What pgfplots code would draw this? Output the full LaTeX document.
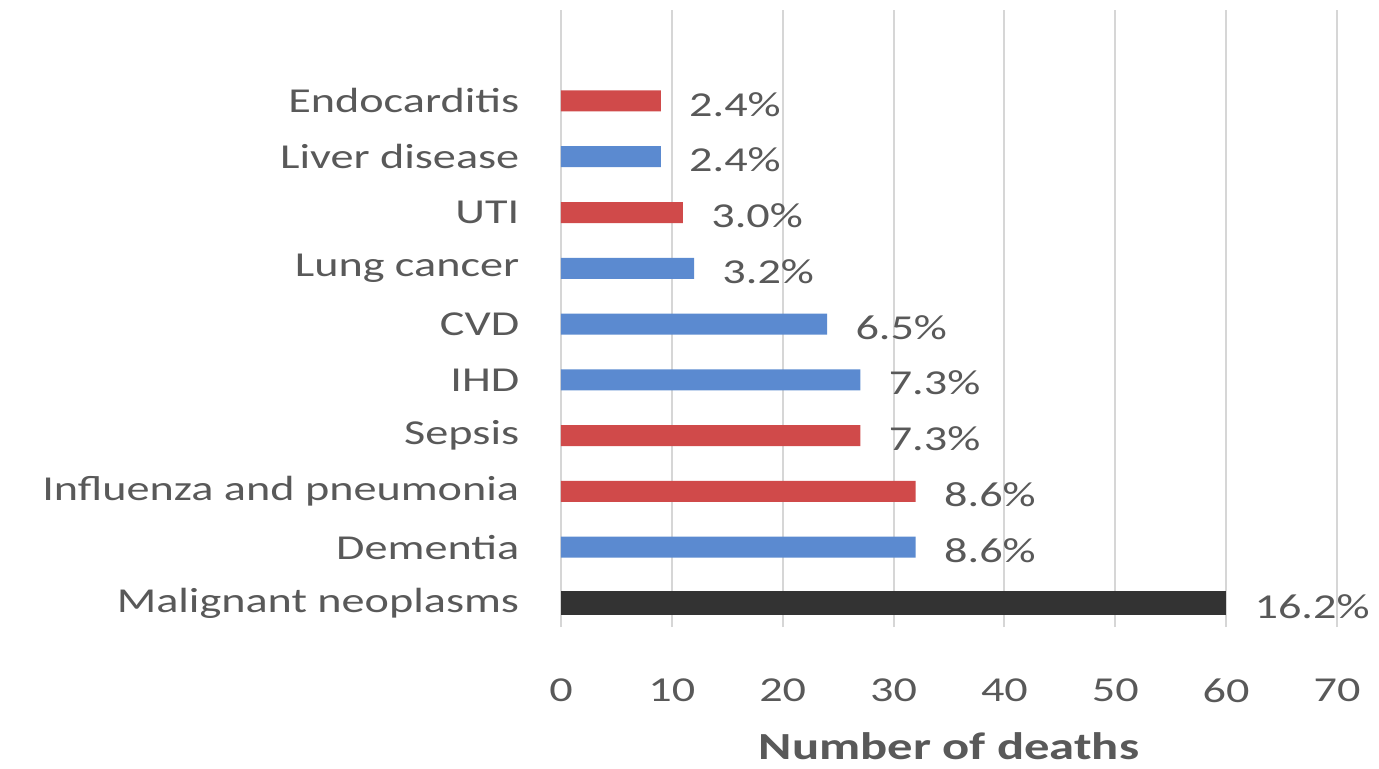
\documentclass[border=0pt]{standalone}
\usepackage{fontspec}
\setmainfont{Carlito}[FakeStretch=1.32]
\usepackage{pgfplots}
\pgfplotsset{compat=1.18}

\definecolor{barred}{HTML}{D04A4A}
\definecolor{barblue}{HTML}{5B8AD0}
\definecolor{bardark}{HTML}{333333}
\definecolor{txtgray}{HTML}{595959}
\definecolor{gridgray}{HTML}{D6D6D6}

\begin{document}
\begin{tikzpicture}
\begin{axis}[
    name=ax,
    scale only axis,
    width=232.8pt, height=185.1pt,
    xbar, bar shift=0pt, bar width=6.3pt,
    xmin=0, xmax=70, xtick={0,10,...,70},
    ymin=-0.43, ymax=10.63,
    ytick={0,...,9},
    yticklabels={Malignant neoplasms, Dementia, Influenza and pneumonia, Sepsis, IHD, CVD, Lung cancer, UTI, Liver disease, Endocarditis},
    axis line style={draw=none},
    major tick length=0pt,
    xmajorgrids, grid style={gridgray, line width=0.6pt},
    ymajorgrids=false,
    tick label style={font=\fontsize{10.5}{12}\selectfont, text=txtgray},
    xticklabel style={yshift=-12pt},
    yticklabel style={xshift=-9pt},
    /pgf/number format/assume math mode=true,
    point meta=explicit symbolic,
    nodes near coords,
    every node near coord/.append style={anchor=west, font=\fontsize{10.5}{12}\selectfont, text=txtgray, xshift=5pt, yshift=-1pt},
    clip=false,
]
\addplot[fill=barred, draw=none] coordinates {
    (32,2) [8.6\%]
    (27,3) [7.3\%]
    (11,7) [3.0\%]
    (9,9)  [2.4\%]
};
\addplot[fill=barblue, draw=none] coordinates {
    (32,1) [8.6\%]
    (27,4) [7.3\%]
    (24,5) [6.5\%]
    (12,6) [3.2\%]
    (9,8)  [2.4\%]
};
\addplot[fill=bardark, draw=none, bar width=7pt] coordinates {
    (60,0) [16.2\%]
};
\end{axis}
\node[anchor=base, font=\bfseries\fontsize{11.5}{13}\selectfont, text=txtgray] at ([yshift=-39.8pt]ax.south) {Number of deaths};
\pgfresetboundingbox
\path[use as bounding box] ([shift={(-168.3pt,-42.3pt)}]ax.south west) rectangle ([shift={(12.6pt,3pt)}]ax.north east);
\end{tikzpicture}
\end{document}
